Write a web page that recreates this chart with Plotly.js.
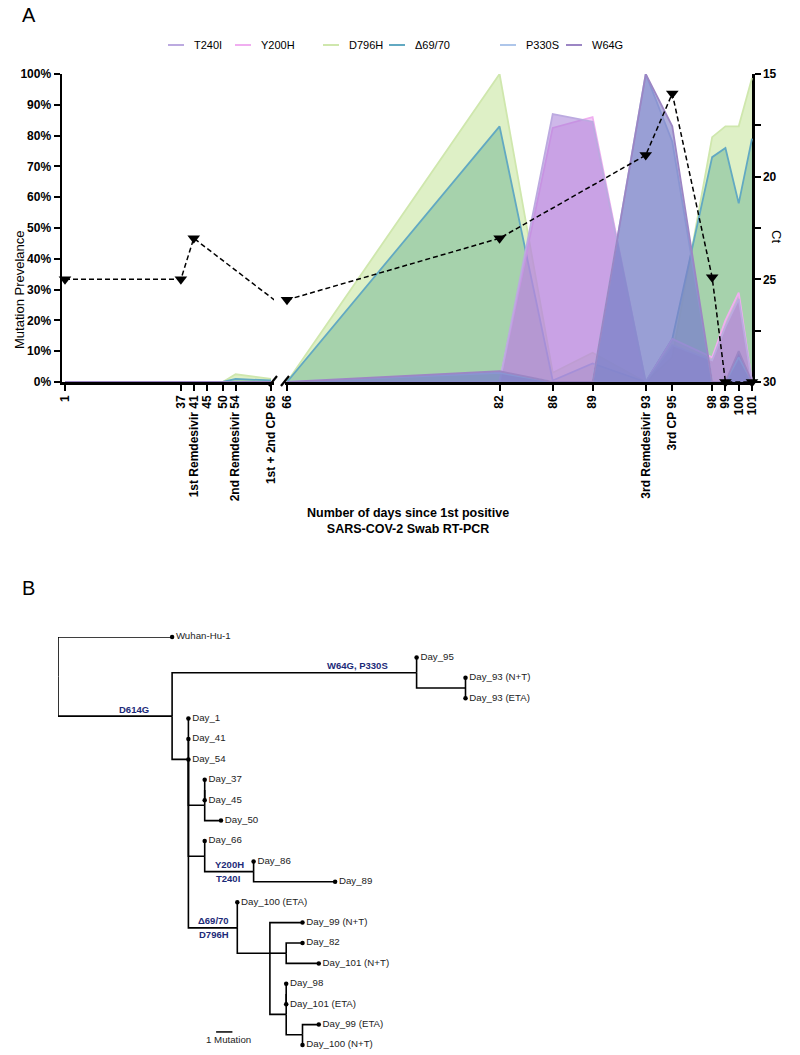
<!DOCTYPE html>
<html><head><meta charset="utf-8">
<script src="https://cdn.plot.ly/plotly-3.0.1.min.js"></script>
<style>html,body{margin:0;padding:0;background:#fff}#chart{width:800px;height:1055px}</style>
</head><body><div id="chart"></div>
<script>
// ---------- Panel A data ----------
const days = [1,37,41,45,50,54,65,66,82,86,89,93,95,98,99,100,101];
const dayLabels = ['1','37','1st Remdesivir 41','45','50','2nd Remdesivir 54','1st + 2nd CP 65','66','82','86','89','3rd Remdesivir 93','3rd CP 95','98','99','100','101'];
const T240I = [0,0,0,0,0,0,0,0,0,87,84.5,0,12,7,18,27,0];
const Y200H = [0,0,0,0,0,0,0,0,0,82.5,86,0,14,8,20,29,0];
const D796H = [0,0,0,0,0,2.5,1,0,100,3,9.5,0,8,79.5,83,83,98.7];
const D6970 = [0,0,0,0,0,1,0.5,0,83,0.5,6,0,14,73,76,58,79];
const P330S = [0,0,0,0,0,0,0,0,3,0,0,100,78,0,0,8,0];
const W64G  = [0,0,0,0,0,0,0,0,3.5,0,0,100,83,0,0,10,0];
const seriesNames = ['T240I','Y200H','D796H','\u039469/70','P330S','W64G'];
const seriesValues = [T240I,Y200H,D796H,D6970,P330S,W64G];
const prevTicks = [0,10,20,30,40,50,60,70,80,90,100];
const ctTicks = [15,20,25,30];
const ctDays = [1,37,41,66,82,93,95,98,99,101];
const ctValues = [25,25,23,26,23,18.95,15.95,24.9,30,30];
const breakAfter = 65;

// ---------- Panel B data (tree) ----------
const treeNames   = ['root','Wuhan-Hu-1','A','W','Day_95','W2','Day_93 (N+T)','Day_93 (ETA)','B','Day_1','Day_41','Day_54','C','C1','Day_37','Day_45','Day_50','D','Day_66','D2','Day_86','Day_89','E','Day_100 (ETA)','E2','Day_99 (N+T)','F','Day_82','Day_101 (N+T)','G','G1','Day_98','Day_101 (ETA)','G2','Day_99 (ETA)','Day_100 (N+T)'];
const treeParents = [null,'root','root','A','W','W','W2','W2','A','B','B','B','B','C','C1','C1','C','B','D','D','D2','D2','B','E','E','E2','E2','F','F','E2','G','G1','G1','G','G2','G2'];
const treeLengths = [0,7,7,15,0,3,0,0,1,0,0,0,1,0,0,0,1,1,0,3,0,5,3,0,2,2,1,1,2,1,0,0,0,1,1,0];
const treeRows    = [1.94,0,3.88,1.75,1,2.5,2,3,6,4,5,6,8.25,7.5,7,8,9,10.75,10,11.5,11,12,14.26,13,15.5,14,15.5,15,16,18.5,17.5,17,18,19.5,19,20];
const mutNodes = ['A','W','D2','D2','E','E'];
const mutTexts = ['D614G','W64G, P330S','Y200H','T240I','\u039469/70','D796H'];
const mutSides = [1,1,1,-1,1,-1];
const scaleBarMutations = 1;

// ---------- helpers / styles ----------
const W = 800, H = 1055;
const fx = p => p / W, fy = p => 1 - p / H;
const FONT = 'Liberation Sans, Arial, Helvetica, sans-serif';
const lineColors = ['#bcaae0','#f0aef0','#cfe7ad','#62a9c2','#aec6ea','#9c86c4'];
const fillColors = ['rgba(165,125,215,0.55)','rgba(232,160,238,0.5)','rgba(200,230,160,0.6)','rgba(110,180,146,0.5)','rgba(160,185,230,0.5)','rgba(110,110,190,0.55)'];
const drawOrder = [2,3,1,0,4,5];
const mutFracs = [0.67,0.76,0.5,0.47,0.52,0.52];

const traces = [];
const idx1 = days.map((d,i)=>i).filter(i=>days[i] <= breakAfter);
const idx2 = days.map((d,i)=>i).filter(i=>days[i] > breakAfter);
drawOrder.forEach(s => {
  [[idx1,'x'],[idx2,'x2']].forEach(([ix,xa]) => {
    traces.push({
      type:'scatter', mode:'lines', xaxis:xa, yaxis:'y',
      x: ix.map(i=>days[i]), y: ix.map(i=>seriesValues[s][i]),
      fill:'tozeroy', fillcolor: fillColors[s],
      line:{color: lineColors[s], width:1.8}, showlegend:false, hoverinfo:'skip'
    });
  });
});
// Ct line (dashed) on right axis; segment 1 runs to the break
const ct1 = ctDays.map((d,i)=>i).filter(i=>ctDays[i] <= breakAfter + 1);
const ct2 = ctDays.map((d,i)=>i).filter(i=>ctDays[i] > breakAfter);
const ctM1 = ct1.filter(i=>ctDays[i] <= breakAfter);
traces.push({type:'scatter', mode:'lines', xaxis:'x', yaxis:'y2',
  x: ct1.map(i=>ctDays[i]), y: ct1.map(i=>ctValues[i]),
  line:{color:'#000', width:1.5, dash:'5px,3px'}, showlegend:false});
traces.push({type:'scatter', mode:'lines', xaxis:'x2', yaxis:'y2',
  x: ct2.map(i=>ctDays[i]), y: ct2.map(i=>ctValues[i]),
  line:{color:'#000', width:1.5, dash:'5px,3px'}, showlegend:false});
traces.push({type:'scatter', mode:'markers', xaxis:'x', yaxis:'y2', cliponaxis:false,
  x: ctM1.map(i=>ctDays[i]), y: ctM1.map(i=>ctValues[i]),
  marker:{symbol:'triangle-down', color:'#000', size:11, line:{width:0}}, showlegend:false});
traces.push({type:'scatter', mode:'markers', xaxis:'x2', yaxis:'y2', cliponaxis:false,
  x: ct2.map(i=>ctDays[i]), y: ct2.map(i=>ctValues[i]),
  marker:{symbol:'triangle-down', color:'#000', size:11, line:{width:0}}, showlegend:false});

// ---------- tree layout ----------
const nodeX = {}, nodeRow = {}, nodeParent = {}, nodeLen = {};
treeNames.forEach((n,i)=>{ nodeRow[n]=treeRows[i]; nodeParent[n]=treeParents[i]; nodeLen[n]=treeLengths[i]; });
function getX(n){ if (nodeX[n]!==undefined) return nodeX[n]; const p=nodeParent[n]; nodeX[n] = p ? getX(p)+nodeLen[n] : 0; return nodeX[n]; }
treeNames.forEach(getX);
const hasChild = {}; treeParents.forEach(p=>{ if(p) hasChild[p]=true; });
const segX = [], segY = [];
treeNames.forEach(n => {
  const p = nodeParent[n];
  if (!p) { segX.push(nodeX[n]-0.2, nodeX[n], null); segY.push(nodeRow[n], nodeRow[n], null); return; }
  segX.push(nodeX[p], nodeX[p], nodeX[n], null);
  segY.push(nodeRow[p], nodeRow[n], nodeRow[n], null);
});
traces.push({type:'scatter', mode:'lines', xaxis:'x3', yaxis:'y3', x:segX, y:segY,
  line:{color:'#000', width:1.6}, showlegend:false, hoverinfo:'skip'});
const tips = treeNames.filter(n=>!hasChild[n]);
traces.push({type:'scatter', mode:'markers+text', xaxis:'x3', yaxis:'y3',
  x: tips.map(n=>nodeX[n]), y: tips.map(n=>nodeRow[n]), text: tips.map(n=>n),
  textposition:'middle right', textfont:{family:FONT, size:9.7, color:'#222'},
  marker:{color:'#000', size:4.5}, showlegend:false, cliponaxis:false});

// ---------- annotations & shapes ----------
const annotations = [], shapes = [];
annotations.push({text:'A', x:fx(20), y:fy(15), xref:'paper', yref:'paper', xanchor:'left', yanchor:'middle', showarrow:false, font:{family:FONT, size:20, color:'#000'}});
annotations.push({text:'B', x:fx(20), y:fy(588), xref:'paper', yref:'paper', xanchor:'left', yanchor:'middle', showarrow:false, font:{family:FONT, size:20, color:'#000'}});
annotations.push({text:'Mutation Prevelance', x:fx(10), y:fy(228), xref:'paper', yref:'paper', textangle:-90, showarrow:false, font:{family:FONT, size:13, color:'#000'}});
annotations.push({text:'Ct', x:fx(786), y:fy(228), xref:'paper', yref:'paper', textangle:90, showarrow:false, font:{family:FONT, size:13, color:'#000'}});
annotations.push({text:'<b>Number of days since 1st positive<br>SARS-COV-2 Swab RT-PCR</b>', x:fx(408), y:fy(521), xref:'paper', yref:'paper', showarrow:false, font:{family:FONT, size:12.5, color:'#000'}});
// legend
const legendX = [168,235,323,389,500,566];
seriesNames.forEach((n,i)=>{
  shapes.push({type:'line', xref:'paper', yref:'paper', x0:fx(legendX[i]), x1:fx(legendX[i]+16), y0:fy(45), y1:fy(45), line:{color:lineColors[i], width:2}});
  annotations.push({text:n, x:fx(legendX[i]+24), y:fy(45), xref:'paper', yref:'paper', xanchor:'left', yanchor:'middle', showarrow:false, font:{family:FONT, size:11, color:'#000'}});
});
// axis break marks
[[269,386,277,376],[281,386,289,376]].forEach(([a,b,c,d])=>shapes.push({type:'line', xref:'paper', yref:'paper', x0:fx(a), y0:fy(b), x1:fx(c), y1:fy(d), line:{color:'#000', width:2.2}}));
// mutation labels on tree
mutNodes.forEach((n,i)=>{
  const p = nodeParent[n];
  annotations.push({text:'<b>'+mutTexts[i]+'</b>', xref:'x3', yref:'y3', x: nodeX[p] + mutFracs[i]*nodeLen[n], y: nodeRow[n], yshift: 7*mutSides[i], showarrow:false,
    font:{family:FONT, size:9.5, color:'#1c2a78'}});
});
// scale bar
const sbX = 9.7, sbRow = 19.36;
shapes.push({type:'line', xref:'x3', yref:'y3', x0:sbX, x1:sbX+scaleBarMutations, y0:sbRow, y1:sbRow, line:{color:'#000', width:1.5}});
annotations.push({text:'1 Mutation', xref:'x3', yref:'y3', x:sbX+0.75*scaleBarMutations, y:sbRow, yshift:-8, showarrow:false, font:{family:FONT, size:9.7, color:'#222'}});

const tickF = {family:FONT, size:12, color:'#000'};
const axStyle = {showline:true, linecolor:'#000', linewidth:2.5, ticks:'outside', ticklen:6, tickwidth:2, tickcolor:'#000', showgrid:false, zeroline:false, tickfont:tickF};
const layout = {
  width:W, height:H, margin:{l:0,r:0,t:0,b:0}, paper_bgcolor:'#fff', plot_bgcolor:'rgba(0,0,0,0)', showlegend:false,
  xaxis: Object.assign({}, axStyle, {domain:[fx(62), fx(274)], range:[0.07,65.93], anchor:'y', tickmode:'array',
    tickvals: idx1.map(i=>days[i]), ticktext: idx1.map(i=>'<b>'+dayLabels[i]+'</b>'), tickangle:-90}),
  xaxis2: Object.assign({}, axStyle, {domain:[fx(285), fx(753)], range:[65.85,101.075], anchor:'y', tickmode:'array',
    tickvals: idx2.map(i=>days[i]), ticktext: idx2.map(i=>'<b>'+dayLabels[i]+'</b>'), tickangle:-90}),
  yaxis: Object.assign({}, axStyle, {domain:[fy(382), fy(74)], range:[0,100], anchor:'x', tickmode:'array',
    tickvals: prevTicks, ticktext: prevTicks.map(v=>'<b>'+v+'%</b>')}),
  yaxis2: Object.assign({}, axStyle, {overlaying:'y', side:'right', anchor:'free', position:fx(753), range:[30,15], tickmode:'array',
    tickvals: ctTicks, ticktext: ctTicks.map(v=>'<b>'+v+'</b>'),
    minor:{tickmode:'array', tickvals:[17.5,22.5,27.5], ticks:'outside', ticklen:6, tickwidth:2, tickcolor:'#000'}}),
  xaxis3: {domain:[fx(58), fx(58+16.3*40)], range:[0,40], anchor:'y3', visible:false},
  yaxis3: {domain:[fy(1045), fy(637)], range:[20,0], anchor:'x3', visible:false},
  annotations, shapes
};
Plotly.newPlot('chart', traces, layout, {staticPlot:true, displayModeBar:false});
</script></body></html>
